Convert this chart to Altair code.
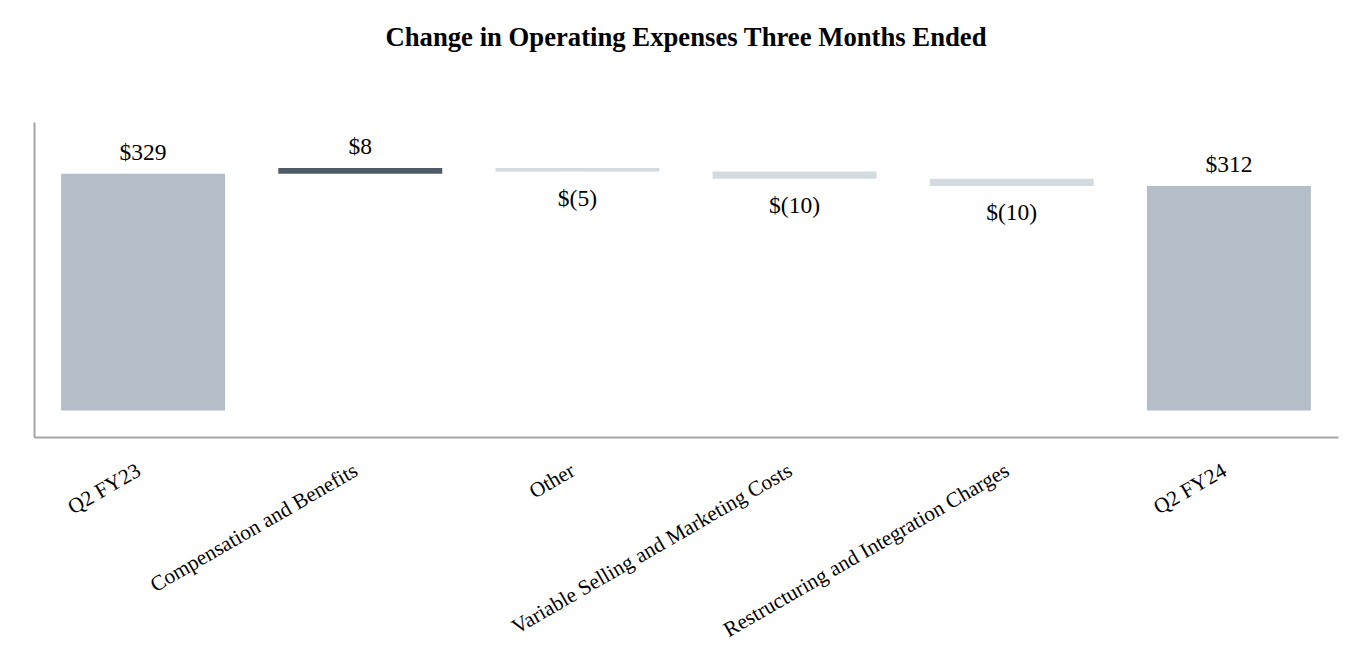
import altair as alt
import pandas as pd

categories = [
    "Q2 FY23",
    "Compensation and Benefits",
    "Other",
    "Variable Selling and Marketing Costs",
    "Restructuring and Integration Charges",
    "Q2 FY24",
]
values = [329, 8, -5, -10, -10, 312]
kinds = ["total", "increase", "decrease", "decrease", "decrease", "total"]
value_labels = ["$329", "$8", "$(5)", "$(10)", "$(10)", "$312"]

start, end = [], []
running = 0
for v, k in zip(values, kinds):
    if k == "total":
        start.append(0)
        end.append(v)
        running = v
    else:
        start.append(running)
        running += v
        end.append(running)

df = pd.DataFrame({
    "category": categories,
    "value": values,
    "kind": kinds,
    "label": value_labels,
    "start": start,
    "end": end,
})
df["top"] = df[["start", "end"]].max(axis=1)
df["bottom"] = df[["start", "end"]].min(axis=1)

FONT = "Liberation Serif"

x_enc = alt.X(
    "category:N",
    sort=categories,
    title=None,
    scale=alt.Scale(paddingInner=0.245, paddingOuter=0.125),
    axis=alt.Axis(
        labelAngle=-30,
        labelAlign="right",
        labelBaseline="middle",
        labelFont=FONT,
        labelFontSize=21.3,
        labelColor="#000000",
        labelPadding=32,
        labelOffset=-4,
        labelLimit=0,
        ticks=False,
        tickSize=0,
        domainColor="#a6a6a6",
        domainWidth=2,
        grid=False,
    ),
)
y_scale = alt.Scale(domain=[-37, 401], nice=False, zero=False)

base = alt.Chart(df).encode(x=x_enc)

bars = base.mark_bar().encode(
    y=alt.Y(
        "start:Q",
        scale=y_scale,
        title=None,
        axis=alt.Axis(labels=False, ticks=False, grid=False, domainColor="#a6a6a6", domainWidth=2),
    ),
    y2="end:Q",
    color=alt.Color(
        "kind:N",
        scale=alt.Scale(domain=["total", "increase", "decrease"], range=["#b4bec8", "#4f5b66", "#d3dbe1"]),
        legend=None,
    ),
)

above = base.mark_text(
    font=FONT, fontSize=23.5, color="#000000", baseline="alphabetic", dy=-14
).encode(
    y=alt.Y("top:Q", scale=y_scale),
    text="label:N",
).transform_filter(alt.datum.kind != "decrease")

below = base.mark_text(
    font=FONT, fontSize=23.5, color="#000000", baseline="top", dy=15
).encode(
    y=alt.Y("bottom:Q", scale=y_scale),
    text="label:N",
).transform_filter(alt.datum.kind == "decrease")

chart = alt.layer(bars, above, below).properties(
    width=1304,
    height=315,
    title=alt.TitleParams(
        "Change in Operating Expenses Three Months Ended",
        font=FONT,
        fontSize=26.7,
        fontWeight="bold",
        color="#000000",
        anchor="middle",
        offset=70,
    ),
    autosize=alt.AutoSizeParams(type="none"),
    padding={"left": 26, "top": 114, "right": 20, "bottom": 210},
).configure(background="#ffffff").configure_view(strokeWidth=0, stroke="transparent")

chart.save("out.html", embed_options={"renderer": "svg", "actions": False})
